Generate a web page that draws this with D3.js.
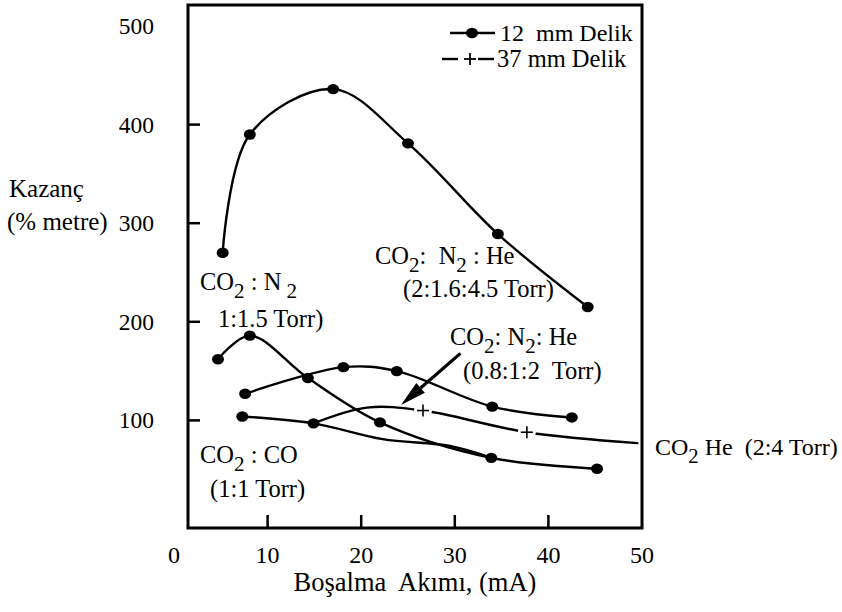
<!DOCTYPE html>
<html>
<head>
<meta charset="utf-8">
<script src="https://cdn.jsdelivr.net/npm/d3@7"></script>
<style>
  body { margin: 0; background: #fff; }
  #chart, #chart text, #chart tspan { font-family: "Liberation Serif", Times, "Times New Roman", serif; }
  #chart text { white-space: pre; }
</style>
</head>
<body>
<svg id="chart" width="842" height="612"></svg>
<script>
// Gain (% per metre) versus discharge current (mA)

// 12 mm bore, CO2 : N2 : He (2:1.6:4.5 Torr)
const heHighX = [5.2, 8.1, 17, 25, 34.6, 44.2];
const heHighY = [270, 390, 436, 381, 289, 215];

// 12 mm bore, CO2 : N2 (1:1.5 Torr)
const n2X = [4.7, 8.1, 14.3, 22, 33.9, 45.2];
const n2Y = [162, 186, 143, 98, 62, 51];

// 12 mm bore, CO2 : N2 : He (0.8:1:2 Torr)
const heLowX = [7.6, 18.1, 23.8, 34, 42.5];
const heLowY = [127, 154, 150, 114, 103];

// 12 mm bore, CO2 : CO (1:1 Torr) — curve trace; first two are measured points
const coX = [7.3, 14.9, 22.3, 29.5, 33.9];
const coY = [104, 97, 81, 74, 62];
const coMeasured = [true, true, false, false, false];

// 37 mm bore, CO2 : He (2:4 Torr) — curve trace; plus marks on measured points
const co2HeX = [14.9, 20.6, 26.6, 37.7, 49.5];
const co2HeY = [97, 113, 110, 88, 77];
const co2HeMeasured = [false, false, true, true, false];

const xTicks = [10, 20, 30, 40];
const xTickLabels = [0, 10, 20, 30, 40, 50];
const yTicks = [100, 200, 300, 400];
const yTickLabels = [100, 200, 300, 400, 500];

const svg = d3.select("#chart");
const x = d3.scaleLinear().domain([0, 50]).range([174, 642]);
const y = d3.scaleLinear().domain([0, 500]).range([519, 26]);

const frame = { left: 188, top: 5, right: 642, bottom: 528 };
const FS = 24.5;

// plot frame
svg.append("rect")
  .attr("x", frame.left).attr("y", frame.top)
  .attr("width", frame.right - frame.left).attr("height", frame.bottom - frame.top)
  .attr("fill", "none").attr("stroke", "#000").attr("stroke-width", 3);

// inward ticks
svg.selectAll(".xt").data(xTicks).join("line")
  .attr("x1", d => x(d)).attr("x2", d => x(d))
  .attr("y1", frame.bottom).attr("y2", frame.bottom - 13)
  .attr("stroke", "#000").attr("stroke-width", 2.5);
svg.selectAll(".yt").data(yTicks).join("line")
  .attr("x1", frame.left).attr("x2", frame.left + 12)
  .attr("y1", d => y(d)).attr("y2", d => y(d))
  .attr("stroke", "#000").attr("stroke-width", 2.5);

// tick labels
svg.selectAll(".xl").data(xTickLabels).join("text")
  .attr("x", d => x(d)).attr("y", 563)
  .attr("text-anchor", "middle").attr("font-size", 24)
  .text(d => d);
svg.selectAll(".yl").data(yTickLabels).join("text")
  .attr("x", 154).attr("y", d => y(d) + 8)
  .attr("text-anchor", "end").attr("font-size", 23.5)
  .text(d => d);

// axis titles
svg.append("text").attr("x", 415).attr("y", 591)
  .attr("text-anchor", "middle").attr("font-size", 26.5)
  .text("Boşalma  Akımı, (mA)");
svg.append("text").attr("x", 9).attr("y", 197).attr("font-size", 25).text("Kazanç");
svg.append("text").attr("x", 7).attr("y", 230).attr("font-size", 25).text("(% metre)");

// curves
const line = d3.line().x(d => x(d[0])).y(d => y(d[1])).curve(d3.curveCatmullRom.alpha(0.5));
const zip = (a, b) => a.map((v, i) => [v, b[i]]);

const curves = [zip(heHighX, heHighY), zip(n2X, n2Y), zip(heLowX, heLowY), zip(coX, coY), zip(co2HeX, co2HeY)];
svg.selectAll(".curve").data(curves).join("path")
  .attr("d", line)
  .attr("fill", "none").attr("stroke", "#000").attr("stroke-width", 2.4)
  .attr("stroke-linejoin", "round").attr("stroke-linecap", "round");

// dot markers (12 mm)
const dots = [
  ...zip(heHighX, heHighY),
  ...zip(n2X, n2Y),
  ...zip(heLowX, heLowY),
  ...zip(coX, coY).filter((d, i) => coMeasured[i])
];
svg.selectAll(".dot").data(dots).join("ellipse")
  .attr("cx", d => x(d[0])).attr("cy", d => y(d[1]))
  .attr("rx", 6).attr("ry", 5.2).attr("fill", "#000");

// plus markers (37 mm) with a gap cut into the line
const plus = zip(co2HeX, co2HeY).filter((d, i) => co2HeMeasured[i]);
svg.selectAll(".gap").data(plus).join("circle")
  .attr("cx", d => x(d[0])).attr("cy", d => y(d[1])).attr("r", 9).attr("fill", "#fff");
const pg = svg.selectAll(".plus").data(plus).join("g")
  .attr("transform", d => `translate(${x(d[0])},${y(d[1])})`);
pg.append("line").attr("x1", -6).attr("x2", 6).attr("stroke", "#000").attr("stroke-width", 1.6);
pg.append("line").attr("y1", -6).attr("y2", 6).attr("stroke", "#000").attr("stroke-width", 1.6);

// legend
const lg = svg.append("g");
lg.append("line").attr("x1", 450).attr("x2", 495).attr("y1", 33).attr("y2", 33)
  .attr("stroke", "#000").attr("stroke-width", 2.4);
lg.append("ellipse").attr("cx", 472).attr("cy", 33).attr("rx", 6).attr("ry", 5.2);
lg.append("text").attr("x", 500).attr("y", 41).attr("font-size", 24).text("12  mm Delik");
lg.append("line").attr("x1", 442).attr("x2", 458).attr("y1", 59).attr("y2", 59)
  .attr("stroke", "#000").attr("stroke-width", 2.4);
lg.append("line").attr("x1", 478).attr("x2", 494).attr("y1", 59).attr("y2", 59)
  .attr("stroke", "#000").attr("stroke-width", 2.4);
lg.append("line").attr("x1", 464).attr("x2", 476).attr("y1", 59).attr("y2", 59)
  .attr("stroke", "#000").attr("stroke-width", 1.8);
lg.append("line").attr("x1", 470).attr("x2", 470).attr("y1", 53).attr("y2", 65)
  .attr("stroke", "#000").attr("stroke-width", 1.8);
lg.append("text").attr("x", 497).attr("y", 67).attr("font-size", 24.5).text("37 mm Delik");

// annotation labels; subscripts drop below the baseline and the next run returns
function chem(xp, yp, parts, fs) {
  const size = fs || FS;
  const t = svg.append("text").attr("x", xp).attr("y", yp).attr("font-size", size);
  let shift = 0;
  parts.forEach(p => {
    const target = p.sub ? 8 : 0;
    const ts = t.append("tspan").attr("dy", target - shift).text(p.s);
    if (p.sub) ts.attr("font-size", size * 0.86);
    shift = target;
  });
  return t;
}
const S = s => ({ s }), U = s => ({ s, sub: true });

chem(375, 264, [S("CO"), U("2"), S(":  N"), U("2"), S(" : He")]);
svg.append("text").attr("x", 403).attr("y", 297).attr("font-size", FS).text("(2:1.6:4.5 Torr)");

chem(200, 290, [S("CO"), U("2"), S(" : N"), U(" 2")]);
svg.append("text").attr("x", 218).attr("y", 327).attr("font-size", FS).text("1:1.5 Torr)");

chem(450, 345, [S("CO"), U("2"), S(": N"), U("2"), S(": He")]);
svg.append("text").attr("x", 463).attr("y", 379).attr("font-size", FS).text("(0.8:1:2  Torr)");

chem(200, 463, [S("CO"), U("2"), S(" : CO")]);
svg.append("text").attr("x", 210).attr("y", 497).attr("font-size", FS).text("(1:1 Torr)");

chem(655, 455, [S("CO"), U("2"), S(" He  (2:4 Torr)")], 24);

// arrow pointing from the 0.8:1:2 Torr label to its curve
const aFrom = [30.6, 168], aTo = [24.25, 115.6];
const p0 = [x(aFrom[0]), y(aFrom[1])], p1 = [x(aTo[0]), y(aTo[1])];
const dx = p1[0] - p0[0], dy = p1[1] - p0[1], L = Math.hypot(dx, dy);
const ux = dx / L, uy = dy / L, nx = -uy, ny = ux;
const headLen = 26, headW = 6.5;
const base = [p1[0] - ux * headLen, p1[1] - uy * headLen];
svg.append("line").attr("x1", p0[0]).attr("y1", p0[1]).attr("x2", base[0]).attr("y2", base[1])
  .attr("stroke", "#000").attr("stroke-width", 3.2);
svg.append("path")
  .attr("d", d3.line()([p1, [base[0] + nx * headW, base[1] + ny * headW], [base[0] - nx * headW, base[1] - ny * headW]]) + "Z")
  .attr("fill", "#000");
</script>
</body>
</html>
